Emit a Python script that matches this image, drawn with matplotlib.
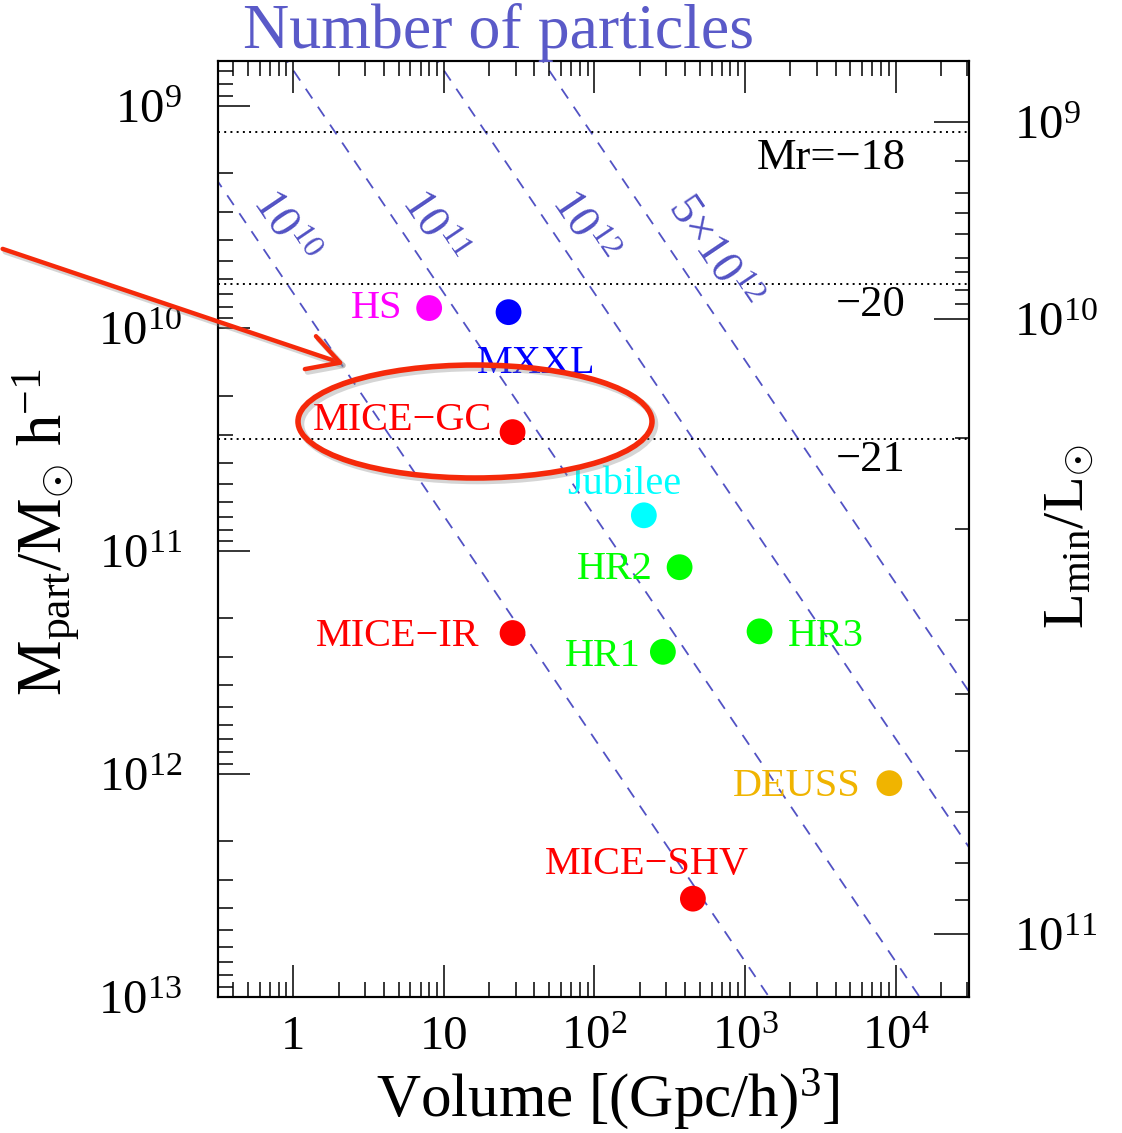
import numpy as np
import matplotlib
matplotlib.use("Agg")
import matplotlib.pyplot as plt
from matplotlib.patches import Ellipse, FancyArrowPatch
import matplotlib.patheffects as pe
from matplotlib.ticker import FixedLocator, NullFormatter, LogLocator

# ---------------- data ----------------
sim_names = ["HS", "MXXL", "MICE\u2212GC", "MICE\u2212IR", "Jubilee",
             "HR2", "HR1", "HR3", "DEUSS", "MICE\u2212SHV"]
sim_volume = [7.99, 26.9, 28.6, 28.6, 213.0, 368.0, 285.0, 1250.0, 9100.0, 451.0]
sim_mpart = [8.1e9, 8.45e9, 2.92e10, 2.33e11, 6.9e10, 1.18e11, 2.83e11,
             2.29e11, 1.1e12, 3.63e12]
sim_colors = ["#ff00ff", "#0000ff", "#ff0000", "#ff0000", "#00ffff",
              "#00ff00", "#00ff00", "#00ff00", "#f0b400", "#ff0000"]

npart_values = [1e10, 1e11, 1e12, 5e12]
npart_labels = [r"$10^{10}$", r"$10^{11}$", r"$10^{12}$", r"$5{\times}10^{12}$"]
omega_m = 0.25
rho_crit = 2.775e20  # Msun/h per (Gpc/h)^3

mr_labels = ["Mr=\u221218", "\u221220", "\u221221"]
mr_mass = [1.316e9, 6.31e9, 3.14e10]

x_ticks = [1, 10, 100, 1000, 10000]
x_ticklabels = ["1", "10", r"$10^{2}$", r"$10^{3}$", r"$10^{4}$"]
y_ticks = [1e9, 1e10, 1e11, 1e12, 1e13]
y_ticklabels = [r"$10^{9}$", r"$10^{10}$", r"$10^{11}$", r"$10^{12}$", r"$10^{13}$"]

lum_labels = [r"$10^{9}$", r"$10^{10}$", r"$10^{11}$"]
lum_major_logmass = [9.072, 9.958, 12.72]
lum_minor_logmass = [9.247, 9.390, 9.480, 9.577, 9.682, 9.747, 9.827, 9.891,
                     10.492, 10.900, 11.310, 11.639, 11.898, 12.170, 12.399, 12.568]

# ---------------- layout / style ----------------
W, H = 1122, 1133
plt.rcParams["font.family"] = ["Liberation Serif", "DejaVu Serif"]
plt.rcParams["mathtext.fontset"] = "custom"
plt.rcParams["mathtext.rm"] = "Liberation Serif"
plt.rcParams["mathtext.it"] = "Liberation Serif:italic"
plt.rcParams["mathtext.bf"] = "Liberation Serif:bold"

def fx(x):
    return x / W

def fy(y):
    return 1 - y / H

fig = plt.figure(figsize=(W / 100, H / 100), dpi=100)
ax = fig.add_axes([fx(218), fy(996.7), fx(969.3) - fx(218), fy(60.7) - fy(996.7)])
ax.set_xscale("log")
ax.set_yscale("log")
xlim = (10 ** -0.5, 10 ** 4.49)
ylim = (1e13, 10 ** 8.798)
ax.set_xlim(*xlim)
ax.set_ylim(*ylim)

line_blue = "#5252c4"

# dashed lines of constant particle number
vv = np.logspace(-0.6, 4.6, 200)
for n in npart_values:
    ax.plot(vv, omega_m * rho_crit * vv / n, color=line_blue, lw=1.3,
            ls=(0, (6.5, 5.5)), zorder=1)

npart_text_pos = [(0.855, 3.54e9), (8.32, 3.54e9), (82.4, 3.54e9), (600.0, 4.58e9)]
for (xv, yv), lab in zip(npart_text_pos, npart_labels):
    ax.text(xv, yv, lab, color=line_blue, fontsize=33, rotation=-56,
            ha="center", va="center", rotation_mode="anchor", zorder=2)

# dotted magnitude lines
for m in mr_mass:
    ax.axhline(m, color="black", lw=1.4, ls=(0, (1, 2.2)), zorder=1)
mr_text_y = [10 ** 9.236, 10 ** 9.894, 10 ** 10.59]
for lab, yv in zip(mr_labels, mr_text_y):
    ax.text(11640, yv, lab, fontsize=32, ha="right", va="center", color="black")

# simulation points
ax.scatter(sim_volume, sim_mpart, s=345, c=sim_colors, edgecolors="none", zorder=4)

label_offsets = {
    "HS": (-27, -10, "right"),
    "MXXL": (28, -61, "center"),
    "MICE\u2212GC": (-20, 2, "right"),
    "MICE\u2212IR": (-33, -13, "right"),
    "Jubilee": (-20, 21, "center"),
    "HR2": (-27, -12, "right"),
    "HR1": (-22, -14, "right"),
    "HR3": (28, -15, "left"),
    "DEUSS": (-29, -13, "right"),
    "MICE\u2212SHV": (-46, 25, "center"),
}
for name, v, m, c in zip(sim_names, sim_volume, sim_mpart, sim_colors):
    dx, dy, ha = label_offsets[name]
    ax.annotate(name, (v, m), xytext=(dx, dy), textcoords="offset pixels",
                ha=ha, va="baseline", fontsize=29, color=c, zorder=5)

# axes ticks
for s in ax.spines.values():
    s.set_linewidth(1.5)
ax.xaxis.set_major_locator(FixedLocator(x_ticks))
ax.set_xticklabels(x_ticklabels)
ax.xaxis.set_minor_locator(LogLocator(base=10, subs=np.arange(2, 10), numticks=20))
ax.xaxis.set_minor_formatter(NullFormatter())
ax.yaxis.set_major_locator(FixedLocator(y_ticks))
ax.set_yticklabels(y_ticklabels)
ax.yaxis.set_minor_locator(LogLocator(base=10, subs=np.arange(2, 10), numticks=20))
ax.yaxis.set_minor_formatter(NullFormatter())
ax.tick_params(axis="x", which="major", direction="in", length=23, width=1.1,
               top=True, bottom=True, labelsize=35, pad=13)
ax.tick_params(axis="x", which="minor", direction="in", length=11, width=1.1,
               top=True, bottom=True)
ax.tick_params(axis="y", which="major", direction="in", length=23, width=1.1,
               left=True, right=False, labelsize=35, pad=26)
ax.tick_params(axis="y", which="minor", direction="in", length=11, width=1.1,
               left=True, right=False)

# right luminosity axis
ax2 = ax.twinx()
ax2.set_yscale("log")
ax2.set_ylim(*ylim)
ax2.yaxis.set_major_locator(FixedLocator([10 ** v for v in lum_major_logmass]))
ax2.set_yticklabels(lum_labels)
ax2.yaxis.set_minor_locator(FixedLocator([10 ** v for v in lum_minor_logmass]))
ax2.yaxis.set_minor_formatter(NullFormatter())
ax2.tick_params(axis="y", which="major", direction="in", length=25, width=1.1,
                labelsize=35, pad=32)
ax2.tick_params(axis="y", which="minor", direction="in", length=10, width=1.1)
for s in ax2.spines.values():
    s.set_linewidth(1.5)

# labels
fig.text(fx(608), fy(1099), r"Volume [(Gpc/h)$^{3}$]", fontsize=44,
         ha="center", va="center")
fig.text(fx(46), fy(532), r"M$_{\rm part}$/M$_{\odot}$ h$^{-1}$", fontsize=45,
         ha="center", va="center", rotation=90)
fig.text(fx(1070), fy(537), r"L$_{\rm min}$/L$_{\odot}$", fontsize=42,
         ha="center", va="center", rotation=90)
fig.text(fx(243), fy(32), "Number of particles", fontsize=46, color="#5a5ac8",
         ha="left", va="center")

# red highlight annotation
red = "#f5290a"
shadow = [pe.Stroke(offset=(2, -2), linewidth=5, foreground="#888888", alpha=0.35),
          pe.Normal()]
ell = Ellipse((fx(475), fy(421.5)), width=354 / W, height=113 / H,
              transform=fig.transFigure, fill=False, edgecolor=red, lw=4,
              zorder=10)
ell.set_path_effects(shadow)
fig.add_artist(ell)
arr = FancyArrowPatch((fx(0), fy(248)), (fx(347), fy(365)),
                      transform=fig.transFigure,
                      arrowstyle="->,head_length=0.9,head_width=0.5",
                      mutation_scale=25, color=red, lw=3.2, zorder=10)
arr.set_path_effects([pe.Stroke(offset=(2, -2), linewidth=4.2, foreground="#888888",
                                alpha=0.35), pe.Normal()])
fig.add_artist(arr)

fig.savefig("out.png", dpi=100)
